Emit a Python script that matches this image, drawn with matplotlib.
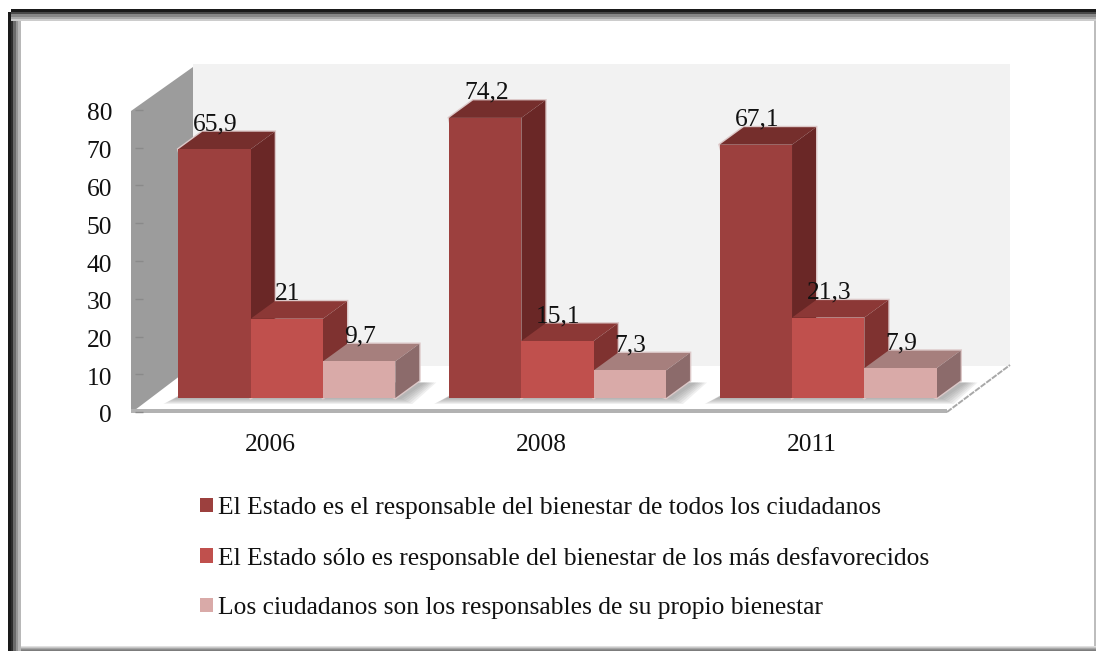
import numpy as np
import matplotlib
matplotlib.use("Agg")
import matplotlib.pyplot as plt
from matplotlib.patches import Polygon, Rectangle
from matplotlib.transforms import Affine2D, ScaledTranslation

years = ["2006", "2008", "2011"]
y_ticks = [0, 10, 20, 30, 40, 50, 60, 70, 80]
todos = [65.9, 74.2, 67.1]
desfavorecidos = [21, 15.1, 21.3]
propio = [9.7, 7.3, 7.9]
names = [
    "El Estado es el responsable del bienestar de todos los ciudadanos",
    "El Estado sólo es responsable del bienestar de los más desfavorecidos",
    "Los ciudadanos son los responsables de su propio bienestar",
]

W, H = 1096, 651
FONT = "Liberation Serif"
SIZE = 18.4
plt.rcParams["font.family"] = FONT

fig = plt.figure(figsize=(W / 100, H / 100), dpi=100, facecolor="white")
# picture pixels (y down) -> figure
px = Affine2D().scale(1 / W, -1 / H).translate(0, 1) + fig.transFigure

# front plane of the chart: x 135..947, value 0 at y=412, 80 at y=110
ax = fig.add_axes([135 / W, 1 - 412 / H, 812 / W, 302 / H])
ax.set_facecolor("none")
for s in ax.spines.values():
    s.set_visible(False)


def strip(x0, y0, x1, y1, c):
    ax.add_patch(Rectangle((x0, y0), x1 - x0, y1 - y0, transform=px, color=c,
                           lw=0, zorder=0, clip_on=False))


# frame of the screenshot: stripes going from dark to pale towards the inside
for x0, x1, c in [(8, 11, "#1a1a1a"), (11, 13, "#2c2c2c"), (13, 16, "#6a6a6a"),
                  (16, 18, "#969696"), (18, 21, "#b8b8b8")]:
    strip(x0, 12, x1, 651, c)
for y0, y1, c in [(9, 12, "#1a1a1a"), (12, 14, "#484848"), (14, 17, "#868686"),
                  (17, 19, "#a8a8a8"), (19, 21, "#cccccc")]:
    strip(11, y0, 1096, y1, c)
for y0, y1, c in [(646, 647, "#e0e0e0"), (647, 648, "#c8c8c8"), (648, 649, "#a8a8a8"),
                  (649, 650, "#8c8c8c"), (650, 651, "#7c7c7c")]:
    strip(21, y0, 1096, y1, c)
strip(1094, 21, 1096, 646, "#bdbdbd")

# walls and floor
ax.add_patch(Polygon([(193, 64), (1010, 64), (1010, 366), (193, 366)], transform=px,
                     color="#f2f2f2", lw=0, zorder=0.1, clip_on=False))
ax.add_patch(Polygon([(131, 111), (193, 67), (193, 366), (131, 413)], transform=px,
                     color="#9c9c9c", lw=0, zorder=0.2, clip_on=False))
ax.add_patch(Polygon([(140, 410), (193, 366), (1010, 366), (947, 410)], transform=px,
                     color="white", lw=0, zorder=0.3, clip_on=False))
ax.add_patch(Polygon([(131, 409), (947, 409), (947, 413), (131, 413)], transform=px,
                     color="#b2b2b2", lw=0, zorder=0.4, clip_on=False))
ax.plot([947, 1010], [412, 365], transform=px, color="#a8a8a8", lw=1.4, ls=(0, (3, 0.6)),
        zorder=0.4, clip_on=False)

# bars sit in the middle of the depth, so shifted from the front plane
bar_tf = ax.transData + ScaledTranslation(16.5 / 100, 14 / 100, fig.dpi_scale_trans)
unit_x = 1 / (812 / 3)      # category units per pixel
unit_y = 80 / 302           # value units per pixel
depth_x = 24 * unit_x
depth_y = 17.5 * unit_y
w = 72.3 * unit_x
x = np.arange(len(years))

series = [
    (todos, names[0], "#9c403e", "#752e2c", "#6a2726", -w),
    (desfavorecidos, names[1], "#c0504d", "#8c3836", "#7f3230", 0),
    (propio, names[2], "#d9aaa8", "#a67f7d", "#8c6b6b", w),
]

# soft shadow on the floor
for g in x:
    left = g - 1.5 * w
    right = g + 1.5 * w
    for k in range(6):
        e = k * 2.2
        shadow = [
            (left - (4 + e) * unit_x, (-1 - e * 0.45) * unit_y),
            (right + (6 + e) * unit_x, (-1 - e * 0.45) * unit_y),
            (right + depth_x + (6 + e) * unit_x, depth_y - 2 * unit_y),
            (left + depth_x, depth_y - 2 * unit_y),
        ]
        ax.add_patch(Polygon(shadow, transform=bar_tf, color="#707070", alpha=0.11,
                             lw=0, zorder=0.6, clip_on=False))

for s, (vals, name, c_front, c_top, c_side, off) in enumerate(series):
    bars = ax.bar(x + off, vals, w, color=c_front, label=name, transform=bar_tf,
                  zorder=5 + s, clip_on=False, lw=0)
    for rect, v in zip(bars, vals):
        x0 = rect.get_x()
        x1 = x0 + w
        # pale halo round the block
        halo = [(x0, v), (x0 + depth_x, v + depth_y), (x1 + depth_x, v + depth_y),
                (x1 + depth_x, depth_y), (x1, 0)]
        ax.add_patch(Polygon(halo, transform=bar_tf, fc="none", ec="#dcc8c8", lw=2,
                             zorder=1 + s * 0.1, clip_on=False))
        ax.add_patch(Polygon([(x0, v), (x1, v), (x1 + depth_x, v + depth_y), (x0 + depth_x, v + depth_y)],
                             transform=bar_tf, color=c_top, lw=0, zorder=4.5 + s, clip_on=False))
        ax.add_patch(Polygon([(x1, 0), (x1, v), (x1 + depth_x, v + depth_y), (x1 + depth_x, depth_y)],
                             transform=bar_tf, color=c_side, lw=0, zorder=4.5 + s, clip_on=False))
        ax.text(x0 + w / 2 + 1 * unit_x, v + depth_y + 1.5 * unit_y, f"{v:g}".replace(".", ","),
                transform=bar_tf, ha="center", va="baseline", fontsize=SIZE, color="#111111",
                zorder=20, clip_on=False)

ax.set_xlim(-0.5, 2.5)
ax.set_ylim(0, 80)
ax.set_xticks(x)
ax.set_xticklabels(years)
ax.set_yticks(y_ticks)
ax.tick_params(axis="x", length=0, pad=15.5, labelsize=SIZE, labelcolor="#111111")
ax.tick_params(axis="y", direction="in", length=5.5, width=1, color="#8a8a8a",
               pad=16.5, labelsize=SIZE, labelcolor="#111111")
# the value labels sit a little lower than their ticks
for label in ax.get_yticklabels():
    label.set_transform(label.get_transform() + ScaledTranslation(0, -2 / 100, fig.dpi_scale_trans))

leg = ax.legend(loc="upper left", bbox_to_anchor=(200, 497), bbox_transform=px,
                frameon=False, fontsize=SIZE, borderpad=0, borderaxespad=0,
                handlelength=0.5, handleheight=0.5, handletextpad=0.2,
                labelspacing=1.08, labelcolor="#111111")
leg.set_zorder(20)

fig.savefig("out.png", dpi=100)
